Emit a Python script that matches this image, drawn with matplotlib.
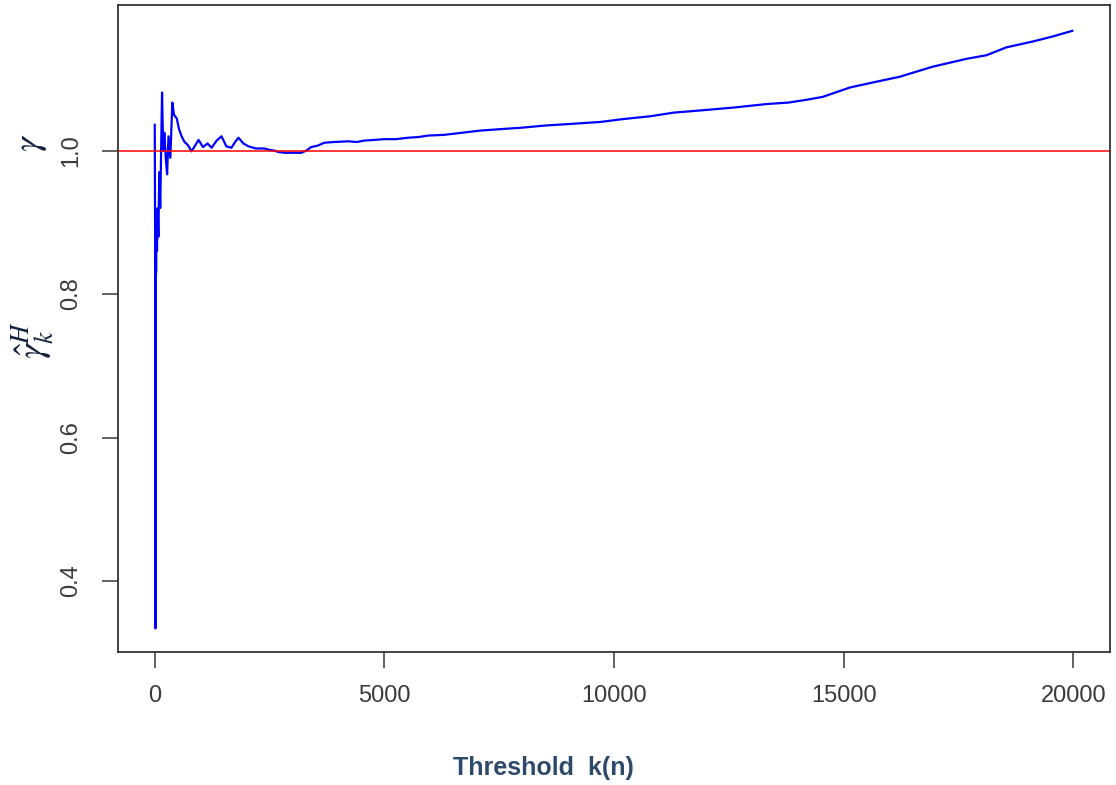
import matplotlib
matplotlib.use("Agg")
import matplotlib.pyplot as plt

# threshold k and Hill estimate
k_vals = [1, 10, 15, 22, 30, 40, 50, 65, 80, 100, 120, 140, 160, 185, 210, 240,
          270, 300, 340, 384, 420, 480, 530, 586, 650, 720, 803, 870, 955, 1050,
          1150, 1238, 1350, 1455, 1560, 1672, 1750, 1824, 1930, 2041, 2200, 2389,
          2500, 2606, 2700, 2823, 3000, 3192, 3300, 3409, 3550, 3692, 3900, 4213,
          4400, 4560, 4800, 4995, 5250, 5516, 5750, 5950, 6300, 6700, 7100, 7535,
          8000, 8500, 9000, 9707, 10200, 10800, 11300, 11878, 12595, 13333, 13800,
          14202, 14549, 15136, 15635, 16221, 16938, 17676, 18111, 18545, 19110,
          19544, 19978]
gamma_hat = [1.036, 0.86, 0.334, 0.88, 0.83, 0.90, 0.86, 0.92, 0.88, 0.97, 0.92,
             1.00, 1.081, 1.00, 1.025, 0.99, 0.967, 1.02, 0.99, 1.067, 1.05, 1.045,
             1.03, 1.02, 1.012, 1.008, 0.999, 1.006, 1.015, 1.005, 1.01, 1.004,
             1.014, 1.02, 1.006, 1.004, 1.012, 1.018, 1.01, 1.006, 1.003, 1.003,
             1.001, 1.000, 0.998, 0.997, 0.997, 0.997, 1.000, 1.005, 1.007, 1.011,
             1.012, 1.013, 1.012, 1.014, 1.015, 1.016, 1.016, 1.018, 1.019, 1.021,
             1.022, 1.025, 1.028, 1.030, 1.032, 1.035, 1.037, 1.040, 1.044, 1.048,
             1.053, 1.056, 1.060, 1.065, 1.067, 1.071, 1.075, 1.088, 1.095, 1.103,
             1.117, 1.128, 1.133, 1.144, 1.152, 1.159, 1.167]
true_gamma = 1.0

x_ticks = [0, 5000, 10000, 15000, 20000]
y_ticks = [0.4, 0.6, 0.8, 1.0]

plt.rcParams["mathtext.fontset"] = "stix"
plt.rcParams["font.family"] = ["Liberation Sans", "DejaVu Sans"]

fig = plt.figure(figsize=(11.16, 7.85), dpi=100)
ax = fig.add_axes([0.1057, 0.1694, 0.8889, 0.8242])

ax.plot(k_vals, gamma_hat, color="blue", lw=1.6)
ax.axhline(true_gamma, color="red", lw=1.1)

ax.set_xlim(-800, 20800)
ax.set_ylim(0.301, 1.203)
ax.set_xticks(x_ticks)
ax.set_yticks(y_ticks)
ax.set_xticklabels([str(t) for t in x_ticks])
ax.set_yticklabels([f"{t:.1f}" for t in y_ticks], rotation=90, va="center")
ax.tick_params(axis="both", length=11.5, width=1.3, color="#555555",
               labelsize=17, labelcolor="#3a3a3a", pad=12)
ax.tick_params(axis="y", pad=14)
for s in ax.spines.values():
    s.set_color("#333333")
    s.set_linewidth(1.3)

fig.text(0.487, 0.0217, "Threshold  k(n)", ha="center", va="center",
         fontsize=18, fontweight="bold", color="#2d4a6a")
fig.text(0.030, 0.567, r"$\hat{\gamma}_k^H$", rotation=90, ha="center",
         va="center", fontsize=27, color="#14213d")
fig.text(0.028, 0.818, r"$\gamma$", rotation=90, ha="center",
         va="center", fontsize=27, color="#14213d")

fig.savefig("out.png", dpi=100)
